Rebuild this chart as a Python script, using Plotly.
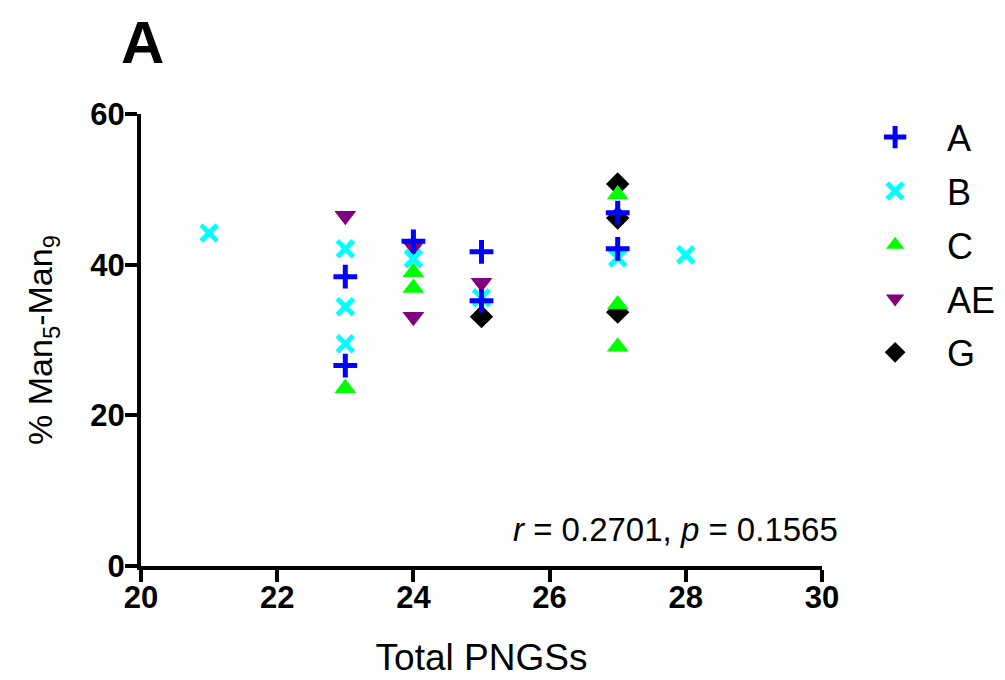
import plotly.graph_objects as go

series_names = ["A", "B", "C", "AE", "G"]
colors = {"A": "#0000ff", "B": "#00ffff", "C": "#00ff00", "AE": "#800080", "G": "#000000"}

A_x = [23, 23, 24, 25, 25, 27, 27]
A_y = [38.4, 26.6, 43.1, 41.7, 35.2, 46.9, 42.1]

B_x = [21, 23, 23, 23, 24, 25, 27, 28]
B_y = [44.2, 42.1, 34.4, 29.5, 40.8, 35.6, 40.9, 41.3]

C_x = [23, 24, 24, 27, 27, 27]
C_y = [23.6, 39.0, 36.9, 49.3, 34.7, 29.1]

AE_x = [23, 24, 24, 25]
AE_y = [46.5, 42.4, 33.1, 37.6]

G_x = [25, 27, 27, 27]
G_y = [33.1, 50.7, 46.2, 33.7]

x_ticks = [20, 22, 24, 26, 28, 30]
y_ticks = [0, 20, 40, 60]

data = {"A": (A_x, A_y), "B": (B_x, B_y), "C": (C_x, C_y), "AE": (AE_x, AE_y), "G": (G_x, G_y)}

markers = {
    "A": dict(symbol="cross-thin", size=17, line=dict(width=5, color=colors["A"])),
    "B": dict(symbol="x-thin", size=16, line=dict(width=5, color=colors["B"])),
    "C": dict(symbol="triangle-up", size=19, line=dict(width=0)),
    "AE": dict(symbol="triangle-down", size=19, line=dict(width=0)),
    "G": dict(symbol="diamond", size=18, line=dict(width=0)),
}

font_family = "Arial, Liberation Sans, sans-serif"

fig = go.Figure()
# draw order: G at the bottom, A on top
for rank_name in reversed(series_names):
    x, y = data[rank_name]
    m = dict(markers[rank_name])
    m["color"] = colors[rank_name]
    fig.add_trace(go.Scatter(x=x, y=y, mode="markers", name=rank_name, marker=m,
                             legendgroup=rank_name,
                             legendrank=series_names.index(rank_name) + 1))

fig.update_layout(
    width=1005, height=680,
    margin=dict(l=133, r=191, t=106, b=122, autoexpand=False),
    paper_bgcolor="white", plot_bgcolor="white",
    font=dict(family=font_family, color="black"),
    legend=dict(x=1.031, y=1.015, xanchor="left", yanchor="top",
                traceorder="grouped", tracegroupgap=4,
                font=dict(size=36, family=font_family), itemwidth=94),
    xaxis=dict(range=[20, 30], tickvals=x_ticks,
               showline=True, linewidth=4, linecolor="black",
               ticks="outside", ticklen=12, tickwidth=4, tickcolor="black",
               showgrid=False, zeroline=False, ticklabelstandoff=-11,
               tickfont=dict(size=31, family=font_family, weight="bold"),
               title=dict(text="Total PNGSs", font=dict(size=37), standoff=31)),
    yaxis=dict(range=[0, 60], tickvals=y_ticks,
               showline=True, linewidth=4, linecolor="black",
               ticks="outside", ticklen=12, tickwidth=4, tickcolor="black",
               showgrid=False, zeroline=False, ticklabelstandoff=-6,
               tickfont=dict(size=31, family=font_family, weight="bold"),
               title=dict(text="% Man<sub>5</sub>-Man<sub>9</sub>", font=dict(size=34), standoff=28)),
)

fig.add_annotation(x=1.026, y=0.08, xref="paper", yref="paper", xanchor="right", yanchor="middle",
                   text="<i>r</i> = 0.2701, <i>p</i> = 0.1565", showarrow=False,
                   font=dict(size=33, family=font_family))
fig.add_annotation(x=-0.033, y=1.158, xref="paper", yref="paper", xanchor="left", yanchor="middle",
                   text="<b>A</b>", showarrow=False, font=dict(size=60, family=font_family))

fig.write_html("out.html")
